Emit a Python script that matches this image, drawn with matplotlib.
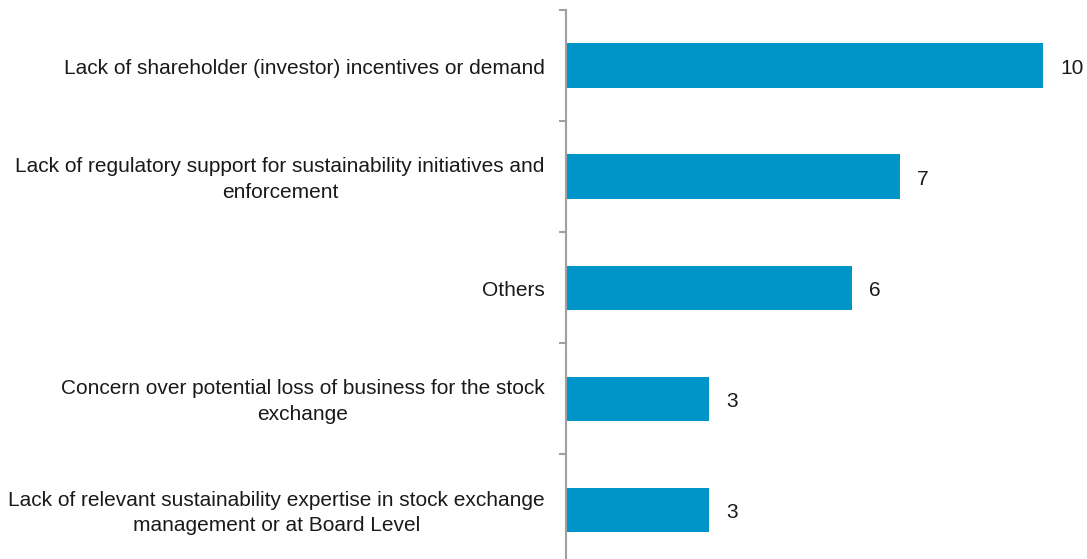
import numpy as np
import matplotlib.pyplot as plt
import matplotlib.transforms as mtransforms

categorias = ["Lack of shareholder (investor) incentives or demand",
              "Lack of regulatory support for sustainability initiatives and\nenforcement",
              "Others",
              "Concern over potential loss of business for the stock\nexchange",
              "Lack of relevant sustainability expertise in stock exchange\nmanagement or at Board Level"]
valores = [10, 7, 6, 3, 3]

plt.rcParams['font.family'] = ['Liberation Sans', 'DejaVu Sans']

fig = plt.figure(figsize=(10.87, 5.59), dpi=100)
ax = fig.add_axes([566 / 1087, 0, 520 / 1087, 549 / 559])

y = np.arange(len(categorias))
ax.barh(y, valores, height=0.4, color='#0095C8')

# textos un poco mas abajo, como en el original
desplazado = ax.transData + mtransforms.ScaledTranslation(0, -3 / 100, fig.dpi_scale_trans)

for yi, v in zip(y, valores):
    ax.text(v + 0.36, yi, str(v), va='center', ha='left', fontsize=15,
            color='#1a1a1a', transform=desplazado)

ax.set_xlim(0, 10.9)
ax.set_ylim((559 - 66) / 111, -0.5)

ax.set_yticks(np.arange(-0.5, 4.0, 1.0))
ax.set_yticklabels([])
ax.tick_params(axis='y', length=5, width=1.5, color='#A0A0A0', direction='out')
ax.set_xticks([])
for yi, cat in zip(y, categorias):
    ax.text(-0.45, yi, cat, ha='right', va='center', multialignment='center',
            fontsize=15, color='#1a1a1a', transform=desplazado, linespacing=1.45)

for lado in ['top', 'right', 'bottom']:
    ax.spines[lado].set_visible(False)
ax.spines['left'].set_color('#A0A0A0')
ax.spines['left'].set_linewidth(1.5)

fig.savefig("out.png", dpi=100, facecolor='w')
